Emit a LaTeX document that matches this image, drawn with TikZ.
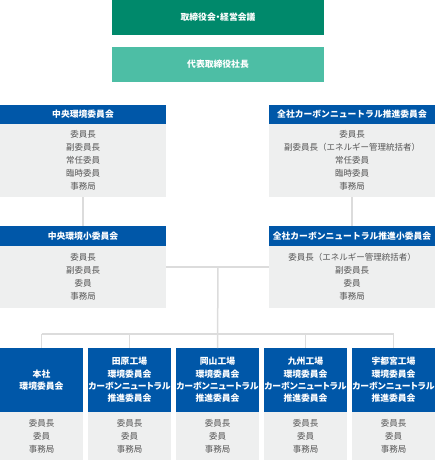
\documentclass[tikz,border=0pt]{standalone}
\usepackage{fontspec}
\setmainfont{Noto Sans CJK JP}
\newfontfamily\jpp{Noto Sans CJK JP}[RawFeature=+palt]
\definecolor{dgreen}{HTML}{00896B}
\definecolor{lgreen}{HTML}{4DBEA5}
\definecolor{hblue}{HTML}{0057A8}
\definecolor{bgray}{HTML}{EEEFEF}
\definecolor{tgray}{HTML}{555555}
\definecolor{lgray}{HTML}{DCDCDC}
\tikzset{
  box/.style={anchor=north west, inner sep=0pt, outer sep=0pt, align=center},
  topbox/.style={box, fill=dgreen, text=white, font=\jpp\fontsize{8.8}{12}\selectfont\bfseries},
  subbox/.style={box, fill=lgreen, text=white, font=\jpp\fontsize{8.8}{12}\selectfont\bfseries},
  hdr/.style={box, fill=hblue, text=white, font=\fontsize{8.8}{12.3}\selectfont\bfseries},
  hdrs/.style={box, fill=hblue, text=white, font=\jpp\fontsize{8.8}{12.3}\selectfont\bfseries},
  body/.style={box, fill=bgray, text=tgray, font=\fontsize{8.5}{13}\selectfont},
  conn/.style={draw=lgray, line width=1.5pt}
}
\begin{document}
\begin{tikzpicture}[x=1pt,y=-1pt]
\useasboundingbox (0,0) rectangle (435,460);
\coordinate (j) at (218,267);
\coordinate (k) at (218,334);
% top boxes
\node[topbox, minimum width=212, minimum height=35] (t1) at (112,0) {取締役会・経営会議};
\node[subbox, minimum width=212, minimum height=35] (t2) at (112,47) {代表取締役社長};
% upper committees
\node[hdr, minimum width=166, minimum height=19] (h1) at (0,105) {中央環境委員会};
\node[body, minimum width=166, minimum height=73] (b1) at (0,124) {委員長\\副委員長\\常任委員\\臨時委員\\事務局};
\node[hdr, minimum width=166, minimum height=19] (h2) at (269,105) {全社カーボンニュートラル推進委員会};
\node[body, minimum width=166, minimum height=73] (b2) at (269,124) {委員長\\副委員長（エネルギー管理統括者）\\常任委員\\臨時委員\\事務局};
% middle committees
\node[hdr, minimum width=166, minimum height=20] (h3) at (0,226) {中央環境小委員会};
\node[body, minimum width=166, minimum height=62] (b3) at (0,246) {委員長\\副委員長\\委員\\事務局};
\node[hdr, minimum width=166, minimum height=20] (h4) at (269,226) {全社カーボンニュートラル推進小委員会};
\node[body, minimum width=166, minimum height=62] (b4) at (269,246) {委員長（エネルギー管理統括者）\\副委員長\\委員\\事務局};
% bottom committees
\node[hdrs, minimum width=83, minimum height=64] (h5) at (0,348) {本社\\環境委員会};
\node[body, minimum width=83, minimum height=48] (b5) at (0,412) {委員長\\委員\\事務局};
\node[hdrs, minimum width=83, minimum height=64] (h6) at (88,348) {田原工場\\環境委員会\\カーボンニュートラル\\推進委員会};
\node[body, minimum width=83, minimum height=48] (b6) at (88,412) {委員長\\委員\\事務局};
\node[hdrs, minimum width=83, minimum height=64] (h7) at (176,348) {岡山工場\\環境委員会\\カーボンニュートラル\\推進委員会};
\node[body, minimum width=83, minimum height=48] (b7) at (176,412) {委員長\\委員\\事務局};
\node[hdrs, minimum width=83, minimum height=64] (h8) at (264,348) {九州工場\\環境委員会\\カーボンニュートラル\\推進委員会};
\node[body, minimum width=83, minimum height=48] (b8) at (264,412) {委員長\\委員\\事務局};
\node[hdrs, minimum width=83, minimum height=64] (h9) at (352,348) {宇都宮工場\\環境委員会\\カーボンニュートラル\\推進委員会};
\node[body, minimum width=83, minimum height=48] (b9) at (352,412) {委員長\\委員\\事務局};
% connectors
\draw[conn] (b1.south) -- (h3.north);
\draw[conn] (b2.south) -- (h4.north);
\draw[conn] (b3.east |- j) -- (b4.west |- j);
\draw[conn] (j) -- (h7.north);
\draw[conn] (h5.north |- k) -- (h9.north |- k);
\draw[conn] (h5.north |- k) -- (h5.north);
\draw[conn] (h6.north |- k) -- (h6.north);
\draw[conn] (h8.north |- k) -- (h8.north);
\draw[conn] (h9.north |- k) -- (h9.north);
\end{tikzpicture}
\end{document}
